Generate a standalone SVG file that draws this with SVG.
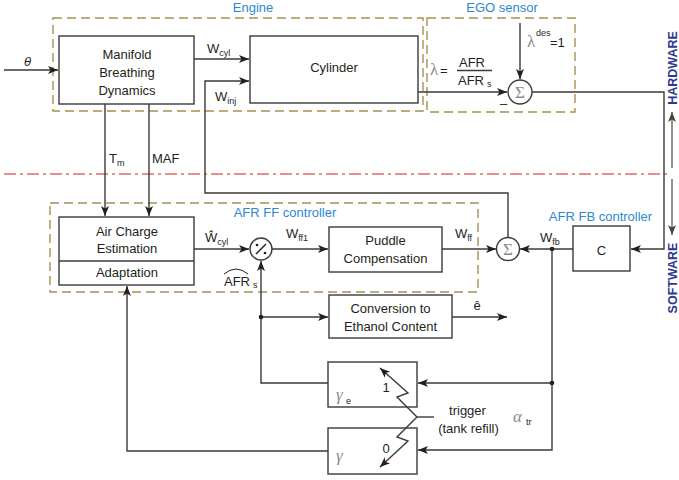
<svg xmlns="http://www.w3.org/2000/svg" width="679" height="480" viewBox="0 0 679 480">
<defs>
<marker id="ah" markerUnits="userSpaceOnUse" markerWidth="11" markerHeight="9" refX="10" refY="4" orient="auto" overflow="visible">
<path d="M0,0 L10,4 L0,8 L2.5,4 z" fill="#231f20"/>
</marker>
<marker id="ahg" markerUnits="userSpaceOnUse" markerWidth="11" markerHeight="9" refX="10" refY="4" orient="auto" overflow="visible">
<path d="M0,0 L10,4 L0,8 L2.5,4 z" fill="#4a4535"/>
</marker>
</defs>
<style>
text{font-family:"Liberation Sans",Arial,sans-serif;font-size:13px;fill:#231f20}
.blk{fill:#fff;stroke:#3a3a3a;stroke-width:1.4}
.grp{fill:none;stroke:#a8914f;stroke-width:1.4;stroke-dasharray:9 5}
.ln{fill:none;stroke:#3a3a3a;stroke-width:1.4}
.arr{marker-end:url(#ah)}
.lbl{fill:#2d88cf}
.hw{font-weight:bold;fill:#2b3990;font-size:12.5px}
.c{text-anchor:middle}
.sub{font-size:9px}
.gk{font-family:"Liberation Serif","Times New Roman",serif;fill:#8a8a8a;font-size:17px}
.dot{fill:#231f20}
</style>

<!-- group frames -->
<g id="engine-group">
<rect class="grp" x="53" y="18" width="370" height="93"/>
<text class="lbl c" x="253" y="12">Engine</text>
</g>
<g id="ego-group">
<rect class="grp" x="427" y="18" width="148" height="94"/>
<text class="lbl c" x="502" y="12">EGO sensor</text>
</g>
<g id="afrff-group">
<rect class="grp" x="50" y="203" width="428" height="89"/>
<text class="lbl c" x="285" y="217">AFR FF controller</text>
</g>

<!-- HW / SW split -->
<g id="hw-sw">
<line x1="4" y1="174" x2="668" y2="174" stroke="#e06a6a" stroke-width="1.4" stroke-dasharray="12 4 3 4"/>
<text class="hw c" transform="translate(677,68) rotate(-90)">HARDWARE</text>
<text class="hw c" transform="translate(677,278) rotate(-90)">SOFTWARE</text>
<line x1="672" y1="168" x2="672" y2="112" stroke="#6b6350" stroke-width="1.4" marker-end="url(#ahg)"/>
<line x1="672" y1="179" x2="672" y2="235" stroke="#6b6350" stroke-width="1.4" marker-end="url(#ahg)"/>
</g>

<!-- nodes -->
<g id="manifold">
<rect class="blk" x="59" y="36" width="135" height="68"/>
<text class="c" x="127" y="58.5">Manifold</text>
<text class="c" x="127" y="76.5">Breathing</text>
<text class="c" x="127" y="94.5">Dynamics</text>
</g>
<g id="cylinder">
<rect class="blk" x="250" y="36" width="168" height="67"/>
<text class="c" x="334" y="72">Cylinder</text>
</g>
<g id="sum1">
<circle cx="520" cy="92" r="12" fill="#fff" stroke="#3a3a3a" stroke-width="1.4"/>
<text class="gk c" x="520" y="98">Σ</text>
</g>
<g id="air-charge">
<rect class="blk" x="59" y="217" width="135" height="68"/>
<line class="ln" x1="59" y1="261" x2="194" y2="261"/>
<text class="c" x="127" y="236">Air Charge</text>
<text class="c" x="127" y="253">Estimation</text>
<text class="c" x="127" y="277">Adaptation</text>
</g>
<g id="divider">
<circle cx="261" cy="249" r="11" fill="#fff" stroke="#3a3a3a" stroke-width="1.4"/>
<line x1="256" y1="254" x2="266" y2="244" stroke="#231f20" stroke-width="1.4"/>
<circle cx="257" cy="245" r="1.3" class="dot"/>
<circle cx="265" cy="253" r="1.3" class="dot"/>
</g>
<g id="puddle">
<rect class="blk" x="329" y="227" width="113" height="45"/>
<text class="c" x="385.5" y="245">Puddle</text>
<text class="c" x="385.5" y="263">Compensation</text>
</g>
<g id="sum2">
<circle cx="508" cy="249" r="11.5" fill="#fff" stroke="#3a3a3a" stroke-width="1.4"/>
<text class="gk c" x="508" y="255">Σ</text>
</g>
<g id="fb-controller">
<rect class="blk" x="573" y="226" width="57" height="45"/>
<text class="c" x="601.5" y="255">C</text>
<text class="lbl c" x="600.5" y="221">AFR FB controller</text>
</g>
<g id="conversion">
<rect class="blk" x="329" y="295" width="123" height="43"/>
<text class="c" x="390.5" y="313">Conversion to</text>
<text class="c" x="390.5" y="331">Ethanol Content</text>
</g>
<g id="gamma-e">
<rect class="blk" x="328" y="362" width="89" height="45"/>
<text class="gk" x="336" y="400" font-style="italic">γ</text>
<text class="sub" x="346" y="404" font-size="9.5">e</text>
<text class="c" x="386" y="392">1</text>
</g>
<g id="gamma">
<rect class="blk" x="328" y="428" width="89" height="46"/>
<text class="gk" x="336" y="461" font-style="italic">γ</text>
<text class="c" x="386" y="453">0</text>
</g>
<g id="switch">
<line class="ln" x1="434" y1="417" x2="417" y2="417"/>
<polyline class="ln" points="417,417 397,397 408,393 380,368" marker-end="url(#ah)"/>
<polyline class="ln" points="417,417 397,437 408,441 380,467" marker-end="url(#ah)"/>
<text class="c" x="467.5" y="415">trigger</text>
<text class="c" x="468.5" y="433">(tank refill)</text>
<text class="gk" x="513" y="422" font-style="italic">α</text>
<text class="sub" x="526" y="425">tr</text>
</g>

<!-- connectors -->
<g id="connectors">
<line class="ln arr" x1="4" y1="70" x2="58" y2="70"/>
<line class="ln arr" x1="194" y1="59" x2="249" y2="59"/>
<polyline class="ln arr" points="508,237 508,193 205,193 205,81 249,81"/>
<line class="ln arr" x1="418" y1="92" x2="507" y2="92"/>
<line class="ln arr" x1="520" y1="23" x2="520" y2="79"/>
<polyline class="ln arr" points="532,92 664,92 664,249 631,249"/>
<line class="ln arr" x1="105" y1="104" x2="105" y2="216"/>
<line class="ln arr" x1="149" y1="104" x2="149" y2="216"/>
<line class="ln arr" x1="194" y1="249" x2="249" y2="249"/>
<line class="ln arr" x1="272" y1="249" x2="328" y2="249"/>
<polyline class="ln arr" points="328,383 261,383 261,261"/>
<line class="ln arr" x1="261" y1="317" x2="328" y2="317"/>
<circle class="dot" cx="261" cy="317" r="2.3"/>
<line class="ln arr" x1="442" y1="249" x2="496" y2="249"/>
<line class="ln arr" x1="573" y1="249" x2="520" y2="249"/>
<circle class="dot" cx="552" cy="249" r="2.3"/>
<polyline class="ln arr" points="552,249 552,450 418,450"/>
<line class="ln arr" x1="552" y1="383" x2="418" y2="383"/>
<circle class="dot" cx="552" cy="383" r="2.3"/>
<polyline class="ln arr" points="328,451 127,451 127,286"/>
<line class="ln arr" x1="452" y1="317" x2="507" y2="317"/>
</g>

<!-- connector labels -->
<g id="labels">
<text x="24" y="66" font-style="italic">θ</text>
<text x="207" y="53">W<tspan class="sub" dy="3">cyl</tspan></text>
<text x="215" y="101">W<tspan class="sub" dy="3">inj</tspan></text>
<text x="109" y="163">T<tspan class="sub" dy="3">m</tspan></text>
<text x="152" y="163">MAF</text>
<text class="gk" x="430" y="75">λ</text>
<text x="440" y="75">=</text>
<text class="c" x="472" y="66.5">AFR</text>
<line class="ln" x1="457" y1="70.5" x2="492" y2="70.5"/>
<text x="458" y="85">AFR<tspan class="sub" dx="3" dy="2">s</tspan></text>
<text class="gk" x="527" y="47">λ</text>
<text class="sub" x="536" y="36">des</text>
<text x="550" y="47">=1</text>
<text x="500" y="108">–</text>
<text x="205" y="242">Ŵ<tspan class="sub" dy="3">cyl</tspan></text>
<text x="286" y="238">W<tspan class="sub" dy="3">ff1</tspan></text>
<text x="224" y="286">AFR<tspan class="sub" dx="3" dy="2">s</tspan></text>
<path d="M224,274 Q236,264 248,274" fill="none" stroke="#231f20" stroke-width="1"/>
<text x="455" y="238">W<tspan class="sub" dy="3">ff</tspan></text>
<text x="540" y="242">W<tspan class="sub" dy="3">fb</tspan></text>
<text class="c" x="477" y="310">ê</text>
</g>
</svg>
